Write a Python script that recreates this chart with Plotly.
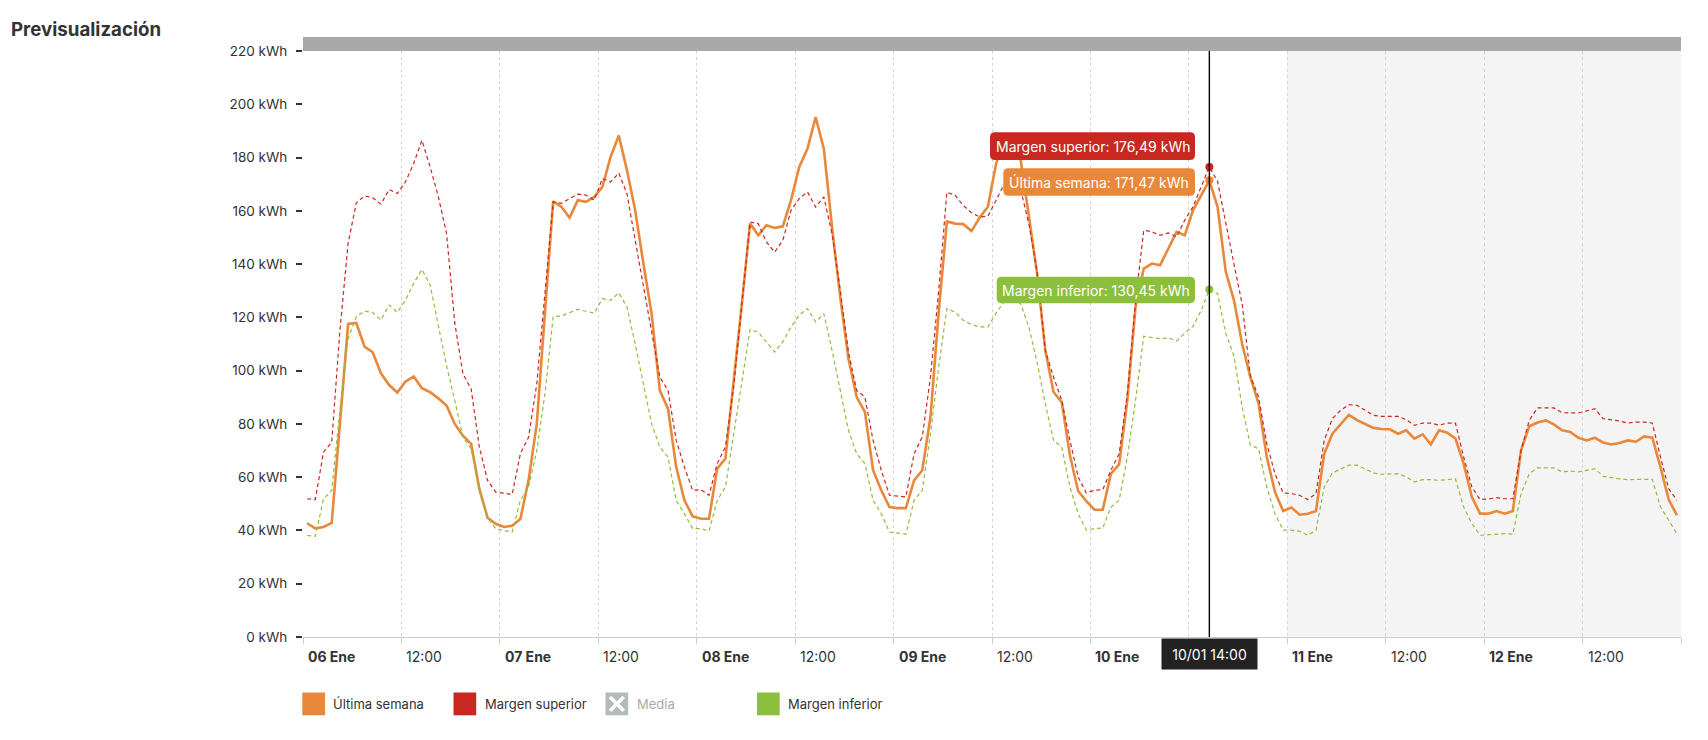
import plotly.graph_objects as go
import pandas as pd

title = "Previsualización"
start_time = "2025-01-06 00:30"
range_start = "2025-01-06 00:00"
range_end = "2025-01-13 00:00"
forecast_start = "2025-01-11 00:00"

ultima_semana = [
    42.7, 40.8, 41.3, 42.8, 80.0, 117.5, 117.9, 109.0, 106.9, 99.0, 94.6, 91.8,
    95.9, 97.8, 93.4, 91.9, 89.6, 86.9, 80.0, 75.6, 72.5, 55.6, 44.8, 42.5,
    41.3, 41.8, 44.3, 58.8, 80.0, 122.0, 163.6, 161.5, 157.4, 164.0, 163.4, 165.2,
    169.0, 180.2, 188.3, 175.2, 160.2, 140.2, 121.4, 92.6, 85.7, 63.8, 51.3, 45.3,
    44.4, 44.4, 63.2, 67.0, 95.0, 125.0, 155.2, 150.8, 154.6, 153.6, 154.2, 164.0,
    176.5, 183.3, 195.2, 183.3, 153.9, 127.5, 104.5, 90.1, 84.5, 62.6, 55.1, 48.8,
    48.4, 48.4, 58.8, 62.6, 82.6, 122.0, 156.0, 155.2, 155.0, 152.4, 157.5, 161.5,
    177.7, 186.0, 188.0, 179.0, 158.0, 136.4, 107.6, 92.0, 88.2, 68.2, 54.8, 51.0,
    47.8, 47.8, 61.3, 64.8, 88.9, 123.9, 138.3, 140.2, 139.6, 146.0, 152.1, 150.8,
    160.2, 165.8, 171.47, 161.5, 137.1, 126.4, 110.0, 97.6, 87.6, 67.6, 54.4, 47.3,
    48.6, 45.9, 46.3, 47.3, 68.8, 76.3, 79.8, 83.4, 81.4, 79.8, 78.5, 78.1,
    78.0, 76.3, 77.6, 74.5, 76.1, 72.3, 77.6, 76.7, 74.5, 65.1, 52.6, 46.3,
    46.3, 47.3, 46.3, 47.3, 70.1, 79.1, 80.5, 81.3, 79.8, 77.6, 77.0, 74.8,
    73.8, 74.8, 73.0, 72.3, 72.8, 73.8, 73.3, 75.3, 74.8, 63.8, 51.6, 45.7,
]

margen_superior = [
    51.9, 51.6, 69.4, 73.1, 115.0, 147.8, 163.0, 165.6, 164.9, 162.5, 168.0, 166.5,
    170.9, 177.8, 186.5, 176.5, 165.3, 151.5, 118.0, 98.8, 93.1, 71.3, 58.8, 54.4,
    54.0, 53.5, 68.8, 75.0, 95.0, 129.0, 163.4, 162.8, 164.6, 166.3, 165.9, 164.0,
    172.1, 170.8, 174.2, 166.4, 148.9, 131.4, 113.9, 97.6, 92.6, 73.8, 63.8, 55.1,
    55.3, 53.2, 65.1, 71.3, 93.9, 125.0, 155.8, 155.2, 148.3, 144.5, 148.9, 160.2,
    164.6, 167.1, 161.4, 165.2, 151.4, 130.2, 107.0, 92.6, 90.1, 73.8, 62.6, 53.2,
    52.8, 52.6, 68.8, 75.1, 97.6, 130.0, 167.0, 165.8, 162.0, 159.3, 157.7, 158.0,
    164.0, 170.0, 173.0, 168.0, 155.0, 137.0, 107.6, 97.6, 88.9, 73.8, 60.1, 54.1,
    55.1, 55.3, 62.6, 68.8, 91.4, 126.0, 152.7, 152.1, 150.8, 151.7, 150.2, 156.5,
    161.5, 169.0, 176.49, 171.0, 155.0, 140.0, 125.0, 98.0, 90.1, 72.6, 61.3, 54.1,
    53.8, 53.2, 51.6, 53.8, 73.8, 82.0, 85.1, 87.2, 87.0, 85.1, 83.2, 82.8,
    82.8, 82.8, 81.6, 79.5, 80.3, 80.3, 79.5, 80.3, 80.3, 67.6, 56.3, 51.6,
    51.8, 52.3, 51.9, 51.9, 70.1, 81.3, 86.0, 86.0, 86.0, 84.2, 84.2, 84.1,
    84.9, 85.7, 82.0, 81.6, 81.1, 80.3, 80.7, 80.7, 80.3, 67.6, 55.7, 51.3,
]

margen_inferior = [
    38.1, 37.8, 51.9, 55.0, 85.0, 112.0, 120.3, 122.4, 121.8, 119.0, 124.6, 121.9,
    126.5, 132.8, 138.0, 132.1, 117.0, 101.9, 88.8, 75.0, 70.6, 55.0, 45.0, 40.6,
    40.0, 39.4, 51.3, 56.3, 70.0, 91.3, 120.3, 120.5, 121.8, 123.0, 122.3, 121.6,
    127.0, 126.4, 129.2, 123.9, 110.0, 95.1, 80.1, 71.3, 67.6, 51.3, 46.3, 40.7,
    40.7, 39.8, 51.3, 56.3, 76.3, 95.1, 115.4, 114.5, 110.8, 107.0, 110.8, 116.4,
    120.8, 123.3, 118.3, 121.4, 107.6, 92.6, 77.6, 68.8, 65.1, 51.3, 46.3, 39.4,
    39.1, 38.6, 51.3, 55.1, 76.3, 101.4, 123.3, 122.0, 118.9, 117.3, 116.4, 116.4,
    121.6, 126.0, 128.0, 125.0, 116.4, 103.0, 87.6, 73.8, 71.3, 56.3, 46.3, 40.1,
    40.7, 40.9, 48.8, 51.3, 67.6, 88.9, 112.9, 112.4, 112.0, 112.3, 111.1, 114.1,
    116.6, 122.6, 130.45, 128.9, 114.0, 105.5, 86.4, 72.0, 70.7, 56.3, 46.3, 40.1,
    40.1, 39.7, 38.2, 40.1, 56.3, 61.6, 63.2, 64.5, 64.5, 63.2, 61.6, 61.1,
    61.3, 61.3, 60.1, 58.2, 59.1, 59.1, 58.8, 59.2, 59.4, 48.8, 42.6, 38.2,
    38.4, 38.8, 38.8, 38.6, 53.8, 61.3, 63.5, 63.5, 63.5, 62.0, 62.3, 62.0,
    62.6, 63.2, 60.3, 59.8, 59.4, 59.1, 59.2, 59.2, 59.2, 48.8, 43.8, 38.8,
]

series_names = ["Última semana", "Margen superior", "Media", "Margen inferior"]
series_colors = ["#E8883A", "#C8281F", "#B3BBBB", "#8DBF3F"]
y_ticks = [0, 20, 40, 60, 80, 100, 120, 140, 160, 180, 200, 220]
day_labels = ["06 Ene", "07 Ene", "08 Ene", "09 Ene", "10 Ene", "11 Ene", "12 Ene"]
half_day_label = "12:00"
hover_index = 110
hover_label = "10/01 14:00"

FONT = "Inter, Roboto, sans-serif"
TXT = "#333333"

times = pd.date_range(start_time, periods=len(ultima_semana), freq="h")
tick_times = pd.date_range(range_start, range_end, freq="12h")

# plot geometry (pixels)
W, H = 1708, 740
L, R, T, B = 303, 27, 51, 103
PW, PH = W - L - R, H - T - B


def px(X):
    return (X - L) / PW


def py(Y):
    return (H - B - Y) / PH


def rrect(x0, y0, x1, y1, r=4):
    pts = [
        ("M", (x0 + r, y0)), ("L", (x1 - r, y0)), ("Q", (x1, y0), (x1, y0 + r)),
        ("L", (x1, y1 - r)), ("Q", (x1, y1), (x1 - r, y1)), ("L", (x0 + r, y1)),
        ("Q", (x0, y1), (x0, y1 - r)), ("L", (x0, y0 + r)), ("Q", (x0, y0), (x0 + r, y0)),
    ]
    s = ""
    for p in pts:
        s += p[0] + " " + " ".join(f"{px(a):.6f},{py(b):.6f}" for a, b in p[1:]) + " "
    return s + "Z"


def fmt(v):
    return f"{v:.2f}".replace(".", ",")


fig = go.Figure()

line_styles = {
    "Última semana": dict(width=2.6),
    "Margen superior": dict(width=1.2, dash="4px,3px"),
    "Margen inferior": dict(width=1.2, dash="4px,3px"),
}
values = {
    "Última semana": ultima_semana,
    "Margen superior": margen_superior,
    "Margen inferior": margen_inferior,
}
for name, color in zip(series_names, series_colors):
    if name not in values:
        continue
    fig.add_trace(go.Scatter(
        x=times, y=values[name], mode="lines", name=name,
        line=dict(color=color, **line_styles[name]), showlegend=False,
        hoverinfo="skip",
    ))

# hover markers
mk_names = ["Margen superior", "Última semana", "Margen inferior"]
fig.add_trace(go.Scatter(
    x=[times[hover_index]] * 3,
    y=[values[n][hover_index] for n in mk_names],
    mode="markers",
    marker=dict(size=8, color=[series_colors[series_names.index(n)] for n in mk_names]),
    showlegend=False, hoverinfo="skip",
))

shapes = []
annotations = []

# forecast band
shapes.append(dict(type="rect", xref="x", yref="paper", x0=forecast_start, x1=range_end,
                   y0=0, y1=1, fillcolor="#F4F4F4", line=dict(width=0), layer="below"))
# top grey bar
shapes.append(dict(type="rect", xref="paper", yref="paper", x0=0, x1=1, y0=1,
                   y1=1 + 14 / PH, fillcolor="#A9A9A9", line=dict(width=0)))
# crosshair
shapes.append(dict(type="line", xref="x", yref="paper", x0=times[hover_index],
                   x1=times[hover_index], y0=0, y1=1, line=dict(color="#000000", width=1.4)))

# x tick labels (left aligned at tick); the one hidden under the crosshair label is skipped
hover_t = times[hover_index]
for k, t in enumerate(tick_times[:-1]):
    if k % 2 == 0:
        txt = f"<b>{day_labels[k // 2]}</b>"
    else:
        txt = half_day_label
        if abs((t - hover_t).total_seconds()) < 3 * 3600:
            continue
    annotations.append(dict(x=t, xref="x", y=0, yref="paper", yanchor="middle", yshift=-19,
                            xanchor="left", xshift=3, text=txt, showarrow=False,
                            font=dict(family=FONT, size=14, color=TXT)))

# crosshair label
annotations.append(dict(x=hover_t, xref="x", y=0, yref="paper", yanchor="top",
                        yshift=-1, text=hover_label, showarrow=False, bgcolor="#222222",
                        font=dict(family=FONT, size=14, color="#FFFFFF"),
                        width=85, height=20, borderpad=5))

# tooltips
tips = [
    ("Margen superior", 990, 132.3, 160.0),
    ("Última semana", 1003.3, 168.3, 195.7),
    ("Margen inferior", 996.7, 276.7, 303.3),
]
for name, x0, y0, y1 in tips:
    color = series_colors[series_names.index(name)]
    shapes.append(dict(type="path", xref="paper", yref="paper", path=rrect(x0, y0, 1195, y1, 5),
                       fillcolor=color, line=dict(width=0)))
    annotations.append(dict(x=px((x0 + 1195) / 2), y=py((y0 + y1) / 2), xref="paper", yref="paper",
                            text=f"{name}: {fmt(values[name][hover_index])} kWh", showarrow=False,
                            xanchor="center", yanchor="middle",
                            font=dict(family=FONT, size=14, color="#FFFFFF")))

# legend (drawn)
leg_x = [302.3, 453.5, 605.5, 757]
leg_y0, leg_y1 = 692.5, 715.3
for name, color, lx in zip(series_names, series_colors, leg_x):
    shapes.append(dict(type="rect", xref="paper", yref="paper", x0=px(lx), x1=px(lx + 22.7),
                       y0=py(leg_y1), y1=py(leg_y0), fillcolor=color, line=dict(width=0)))
    hidden = name == "Media"
    if hidden:
        for (ax0, ay0, ax1, ay1) in [(lx + 4.5, leg_y0 + 4.5, lx + 18.2, leg_y1 - 4.5),
                                     (lx + 4.5, leg_y1 - 4.5, lx + 18.2, leg_y0 + 4.5)]:
            shapes.append(dict(type="line", xref="paper", yref="paper", x0=px(ax0), x1=px(ax1),
                               y0=py(ay0), y1=py(ay1), line=dict(color="#FFFFFF", width=3.5)))
    annotations.append(dict(x=px(lx + 29), y=py((leg_y0 + leg_y1) / 2), xref="paper", yref="paper",
                            xanchor="left", yanchor="middle", text=name, showarrow=False,
                            font=dict(family=FONT, size=13, color="#AAAAAA" if hidden else TXT)))

fig.update_layout(
    width=W, height=H,
    margin=dict(l=L, r=R, t=T, b=B, pad=0),
    paper_bgcolor="#FFFFFF", plot_bgcolor="#FFFFFF",
    title=dict(text=f"<b>{title}</b>", x=11 / W, xanchor="left", xref="container",
               y=1 - 29.5 / H, yanchor="middle", yref="container",
               font=dict(family=FONT, size=18.7, color=TXT)),
    font=dict(family=FONT, size=14, color=TXT),
    showlegend=False,
    hovermode=False,
    shapes=shapes,
    annotations=annotations,
    xaxis=dict(
        type="date", range=[range_start, range_end],
        tickvals=list(tick_times), showticklabels=False,
        ticks="outside", ticklen=6, tickcolor="#CCCCCC", tickwidth=1,
        showgrid=True, gridcolor="#D6D6D6", griddash="dot", gridwidth=1,
        showline=True, linecolor="#CCCCCC", linewidth=1, zeroline=False,
    ),
    yaxis=dict(
        range=[0, 220], tickvals=y_ticks, ticktext=[f"{v} kWh" for v in y_ticks],
        ticks="outside", ticklen=6, tickcolor="#333333", tickwidth=1.5,
        ticklabelstandoff=6,
        showgrid=False, zeroline=False, showline=False,
        tickfont=dict(family=FONT, size=13.5, color=TXT),
    ),
)

fig.write_html("out.html")
